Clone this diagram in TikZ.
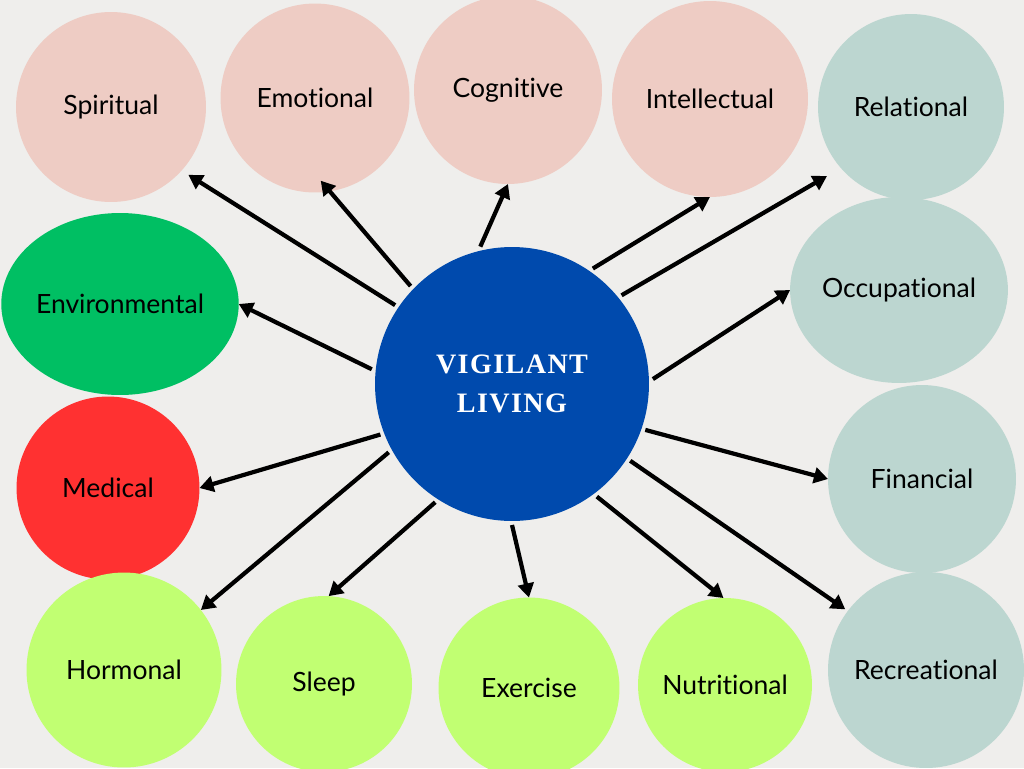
\documentclass[tikz,border=0pt]{standalone}
\usepackage{fontspec}
\setmainfont[Ligatures=NoCommon]{Lato}
\newfontfamily\hubfont[LetterSpace=5]{Liberation Serif}
\usetikzlibrary{arrows.meta,shapes.geometric}
\definecolor{paper}{HTML}{EFEEEC}
\definecolor{blush}{HTML}{EECCC4}
\definecolor{sage}{HTML}{BCD6D0}
\definecolor{leaf}{HTML}{00BF63}
\definecolor{alarm}{HTML}{FF3131}
\definecolor{lime}{HTML}{C1FF72}
\definecolor{royal}{HTML}{004AAD}
\begin{document}
\begin{tikzpicture}[x=0.02cm,y=-0.02cm,
 font=\fontsize{15.1}{18}\selectfont, >={Triangle[length=8pt,width=9pt]},
 bubble/.style={circle,inner sep=0pt,outer sep=0pt,minimum size=#1},
 oval/.style={ellipse,inner sep=0pt,outer sep=0pt},
 link/.style={->,line width=2.4pt}]
 \fill[paper] (0,0) rectangle (1024,768);
 \useasboundingbox (0,0) rectangle (1024,768);
 \clip (0,0) rectangle (1024,768);
 \node[bubble=3.8cm,fill=blush] (spiritual) at (111,107) {Spiritual};
 \node[bubble=3.78cm,fill=blush] (emotional) at (315,98) {Emotional};
 \node[bubble=3.76cm,fill=blush] (cognitive) at (508,90) {Cognitive};
 \node[bubble=3.92cm,fill=blush] (intellectual) at (710,99) {Intellectual};
 \node[bubble=3.72cm,fill=sage] (relational) at (911,107) {Relational};
 \node[oval,fill=sage,minimum width=4.14cm,minimum height=3.72cm] (occupational) at (899,290) {Occupational};
 \node[bubble=3.76cm,fill=sage] (financial) at (922,479) {Financial};
 \node[bubble=3.92cm,fill=sage] (recreational) at (926,670) {Recreational};
 \node[oval,fill=leaf,minimum width=4.6cm,minimum height=3.64cm] (environmental) at (120,304) {Environmental};
 \node[bubble=3.66cm,fill=alarm] (medical) at (108,488) {Medical};
 \node[bubble=3.9cm,fill=lime] (hormonal) at (124,670) {Hormonal};
 \node[bubble=3.52cm,fill=lime] (sleep) at (324,684) {Sleep};
 \node[bubble=3.62cm,fill=lime] (exercise) at (529,688) {Exercise};
 \node[bubble=3.48cm,fill=lime] (nutritional) at (725,685) {Nutritional};
 \node[bubble=5.48cm,fill=royal,outer sep=0.08cm,text=white,align=center,
  font=\hubfont\bfseries\fontsize{16}{22.2}\selectfont] (hub) at (512,384) {VIGILANT\\LIVING};
 \foreach \a/\n/\b/\s in {146/spiritual/-42.6/0.16cm, 136.7/emotional/-81/-0.28cm,
  103.2/cognitive/-90/0cm, 55.5/intellectual/-90/0cm, 39.6/relational/-139.5/0.32cm,
  2.8/occupational/180/0cm, -19.1/financial/180/0cm, -33.9/recreational/143/0.06cm,
  -53.4/nutritional/91/0cm, -90/exercise/90/0cm, -123.1/sleep/87.5/0cm,
  -151/hormonal/38/0cm, -159.9/medical/0/0cm, 174.5/environmental/0/0cm}
  \draw[link,shorten >=\s] (hub.\a) -- (\n.\b);
\end{tikzpicture}
\end{document}
